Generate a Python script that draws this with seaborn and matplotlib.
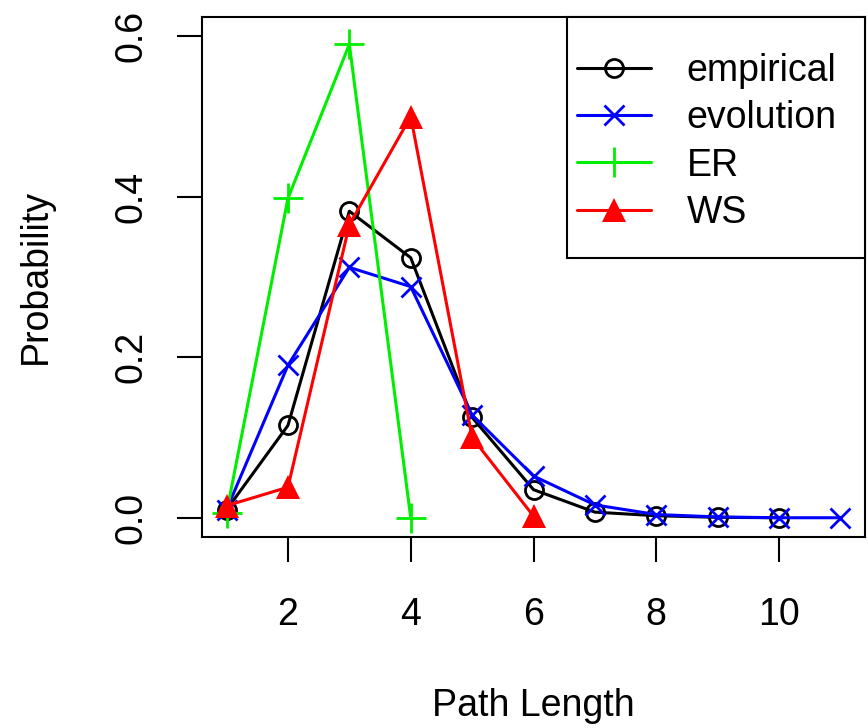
import matplotlib
matplotlib.use("Agg")
import matplotlib.pyplot as plt
from matplotlib.patches import Rectangle
import seaborn as sns

x_emp = [1, 2, 3, 4, 5, 6, 7, 8, 9, 10]
empirical = [0.010, 0.115, 0.382, 0.324, 0.125, 0.035, 0.007, 0.0025, 0.0005, 0.0]
x_evo = [1, 2, 3, 4, 5, 6, 7, 8, 9, 10, 11]
evolution = [0.010, 0.190, 0.312, 0.288, 0.128, 0.052, 0.016, 0.004, 0.001, 0.0, 0.0]
x_er = [1, 2, 3, 4]
er = [0.006, 0.398, 0.590, 0.0]
x_ws = [1, 2, 3, 4, 5, 6]
ws = [0.015, 0.038, 0.365, 0.500, 0.100, 0.002]

xticks = [2, 4, 6, 8, 10]
yticks = [0.0, 0.2, 0.4, 0.6]
ytick_labels = ["0.0", "0.2", "0.4", "0.6"]

sns.set_theme(style="white")
plt.rcParams['font.family'] = ['Liberation Sans Narrow', 'Liberation Sans', 'DejaVu Sans']
plt.rcParams['text.color'] = 'black'
plt.rcParams['axes.labelcolor'] = 'black'
plt.rcParams['xtick.color'] = 'black'
plt.rcParams['ytick.color'] = 'black'

W, H = 868, 728
fig = plt.figure(figsize=(W / 100, H / 100), dpi=100)
ax = fig.add_axes([202 / W, 1 - 537 / H, 663 / W, 520 / H])

fs = 27
lw = 2.2
sns.lineplot(x=x_emp, y=empirical, ax=ax, color="black", marker="o", markersize=13,
             mfc="none", mec="black", mew=2, lw=lw, label="empirical")
sns.lineplot(x=x_evo, y=evolution, ax=ax, color="blue", marker="x", markersize=15,
             mec="blue", mew=2, lw=lw, label="evolution")
sns.lineplot(x=x_er, y=er, ax=ax, color="#00ee00", marker="+", markersize=21,
             mec="#00ee00", mew=2, lw=lw, label="ER")
sns.lineplot(x=x_ws, y=ws, ax=ax, color="red", marker="^", markersize=17,
             mfc="red", mec="red", mew=0, lw=lw, label="WS")

ax.set_xlim(0.6, 11.4)
ax.set_ylim(-0.024, 0.624)
ax.set_xticks(xticks)
ax.set_xticklabels([str(t) for t in xticks], fontsize=fs)
ax.set_yticks(yticks)
ax.set_yticklabels(ytick_labels, fontsize=fs, rotation=90, va="center")
ax.tick_params(axis="both", which="major", direction="out", length=18, width=1.5,
               color="black", bottom=True, left=True)
ax.tick_params(axis="x", pad=25)
ax.tick_params(axis="y", pad=20)
for s in ax.spines.values():
    s.set_color("black")
    s.set_linewidth(1.5)
ax.set_xlabel("Path Length", fontsize=fs, labelpad=40)
ax.set_ylabel("Probability", fontsize=fs, labelpad=43)

# legend frame (R style: extends to plot corner)
ax.add_patch(Rectangle(((567 - 202) / 663, (537 - 258) / 520),
                       1 - (567 - 202) / 663, (258 - 17) / 520,
                       transform=ax.transAxes, facecolor="white",
                       edgecolor="black", lw=1.5, zorder=5, clip_on=False))
leg = ax.legend(loc="upper left", bbox_to_anchor=((577 - 202) / 663, (537 - 53) / 520),
                borderaxespad=0, borderpad=0, frameon=False, fontsize=fs,
                handlelength=1.97, handletextpad=0.95, labelspacing=0.30)
leg.set_zorder(6)

fig.savefig("out.png", dpi=100)
